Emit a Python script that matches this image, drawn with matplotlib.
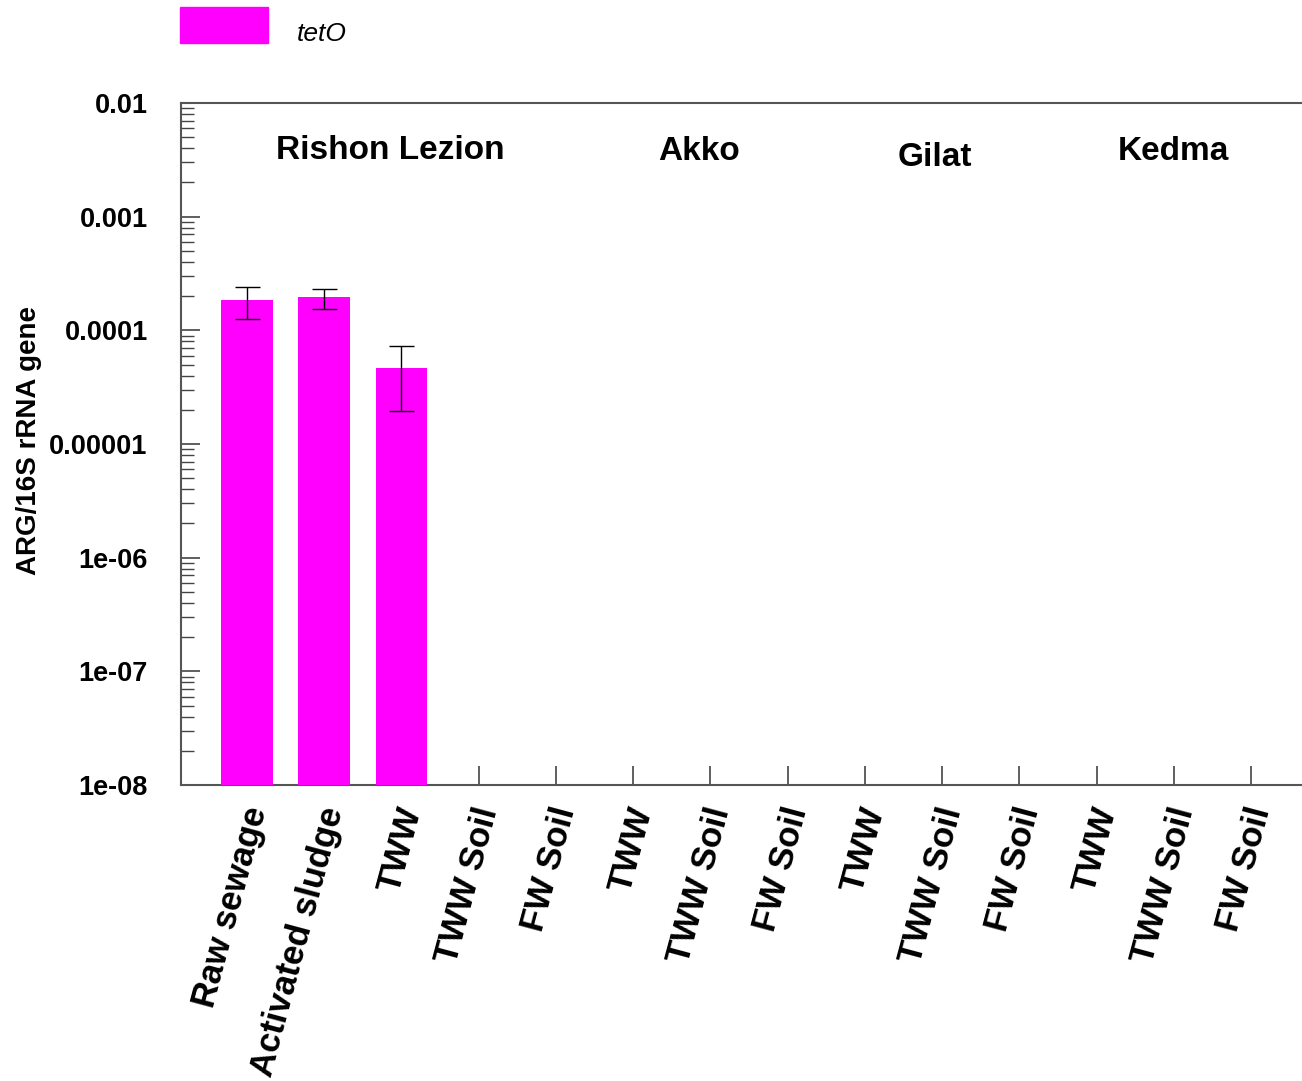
import numpy as np
import matplotlib.pyplot as plt
import matplotlib.transforms as mtransforms

plt.rcParams['font.family'] = ['Liberation Sans', 'DejaVu Sans']

# categories along the x axis
categories = ['Raw sewage', 'Activated sludge', 'TWW', 'TWW Soil', 'FW Soil',
              'TWW', 'TWW Soil', 'FW Soil',
              'TWW', 'TWW Soil', 'FW Soil',
              'TWW', 'TWW Soil', 'FW Soil']
sites = ['Rishon Lezion', 'Akko', 'Gilat', 'Kedma']
site_centers = [1.85, 5.85, 8.9, 12.0]
site_heights = [-2.42, -2.43, -2.48, -2.43]

# tetO abundance (only first three measured)
values = [1.86e-4, 1.98e-4, 4.68e-5]
err_low = [0.60e-4, 0.43e-4, 2.73e-5]
err_high = [0.57e-4, 0.35e-4, 2.62e-5]

ytick_vals = [1e-8, 1e-7, 1e-6, 1e-5, 1e-4, 1e-3, 1e-2]
ytick_labels = ['1e-08', '1e-07', '1e-06', '0.00001', '0.0001', '0.001', '0.01']

fig = plt.figure(figsize=(13.02, 10.81), dpi=100)
ax = fig.add_axes([0.139, 0.2738, 0.861, 0.6309])

x = np.arange(len(categories))
xb = x[:len(values)]
ax.bar(xb, values, width=0.67, color='#ff00ff', zorder=3)
ax.errorbar(xb, values, yerr=[err_low, err_high], fmt='none', ecolor='black',
            elinewidth=1, capsize=9, capthick=1, zorder=4)

ax.set_yscale('log')
ax.set_ylim(1e-8, 1e-2)
ax.set_xlim(-0.855, 13.66)
ax.set_yticks(ytick_vals)
ax.set_yticklabels(ytick_labels, fontsize=19.5, fontweight='bold')
ax.tick_params(axis='y', which='major', direction='in', length=14, width=1.2, color='#444444', pad=24)
ax.tick_params(axis='y', which='minor', direction='in', length=9, width=1, color='#444444')

ax.set_xticks(x)
ax.set_xticklabels(categories, rotation=75, fontsize=25, fontweight='bold',
                   ha='right', va='center', rotation_mode='anchor')
ax.tick_params(axis='x', direction='in', length=14, width=1.2, color='#444444', pad=12)
offset = mtransforms.ScaledTranslation(0.10, -0.06, fig.dpi_scale_trans)
for lbl in ax.get_xticklabels():
    lbl.set_transform(lbl.get_transform() + offset)

for side in ['left', 'bottom', 'top']:
    ax.spines[side].set_color('#555555')
    ax.spines[side].set_linewidth(1.5)
ax.spines['right'].set_visible(False)

for name, cx, h in zip(sites, site_centers, site_heights):
    ax.text(cx, 10 ** h, name, ha='center', va='center', fontsize=24, fontweight='bold')

ax.set_ylabel('ARG/16S rRNA gene', fontsize=20, fontweight='bold')
ax.yaxis.set_label_coords(-0.124, 0.505)

# legend
fig.patches.append(plt.Rectangle((180 / 1302, 1 - 43 / 1081), 88 / 1302, 36 / 1081,
                                 transform=fig.transFigure, color='#ff00ff'))
fig.text(297 / 1302, 1 - 34 / 1081, 'tetO', fontsize=19, style='italic', va='center')

fig.savefig('out.png', dpi=100)
